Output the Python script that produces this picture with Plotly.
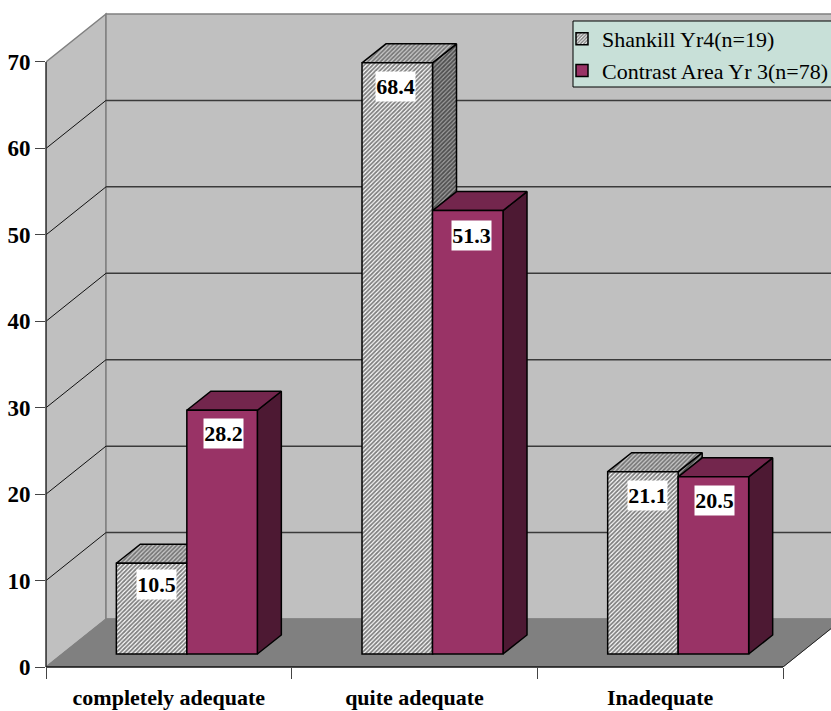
import plotly.graph_objects as go

# Survey responses, percentages per category
categories = ["completely adequate", "quite adequate", "Inadequate"]
shankill_name = "Shankill Yr4(n=19)"
contrast_name = "Contrast Area Yr 3(n=78)"
shankill = [10.5, 68.4, 21.1]
contrast = [28.2, 51.3, 20.5]
y_ticks = [0, 10, 20, 30, 40, 50, 60, 70]

SERIF = "Liberation Serif"

# Pixel scale of the axes
WIDTH, HEIGHT = 831, 711
ML, MR, MT, MB = 46, 0, 10, 44
X_UNIT = 245.67
Y_UNIT = 8.643
PLOT_W = WIDTH - ML - MR
PLOT_H = HEIGHT - MT - MB

# Fake-3D geometry, in axis units
WALL_DX = 60 / X_UNIT
WALL_DY = 48 / Y_UNIT
BAR_W = 70.5 / X_UNIT
BAR_SHIFT = 18 / X_UNIT
BAR_BASE = 13 / Y_UNIT
BAR_DX = 24 / X_UNIT
BAR_DY = 19 / Y_UNIT

YMAX = y_ticks[-1]
N = len(categories)

WALL = "#c0c0c0"
FLOOR = "#808080"
GRID = "#3a3a3a"


def polygon_path(points):
    return "M" + " L".join(f"{x},{y}" for x, y in points) + " Z"


shapes = [
    # left wall, back wall and floor
    dict(type="path", xref="x", yref="y", layer="below", fillcolor=WALL,
         line=dict(color=FLOOR, width=1.5),
         path=polygon_path([(0, 0), (WALL_DX, WALL_DY), (WALL_DX, YMAX + WALL_DY), (0, YMAX)])),
    dict(type="path", xref="x", yref="y", layer="below", fillcolor=WALL,
         line=dict(color=FLOOR, width=1.5),
         path=polygon_path([(WALL_DX, WALL_DY), (N + WALL_DX, WALL_DY),
                            (N + WALL_DX, YMAX + WALL_DY), (WALL_DX, YMAX + WALL_DY)])),
    dict(type="path", xref="x", yref="y", layer="below", fillcolor=FLOOR,
         line=dict(color=FLOOR, width=1),
         path=polygon_path([(0, 0), (N, 0), (N + WALL_DX, WALL_DY), (WALL_DX, WALL_DY)])),
]
for v in y_ticks[1:-1]:
    shapes.append(dict(type="line", xref="x", yref="y", layer="below",
                       x0=0, y0=v, x1=WALL_DX, y1=v + WALL_DY,
                       line=dict(color="#111111", width=1)))
    shapes.append(dict(type="line", xref="x", yref="y", layer="below",
                       x0=WALL_DX, y0=v + WALL_DY, x1=N + WALL_DX, y1=v + WALL_DY,
                       line=dict(color=GRID, width=1.5)))
# Floor's outer edge
shapes.append(dict(type="line", xref="x", yref="y", layer="below",
                   x0=N, y0=0, x1=N + WALL_DX, y1=WALL_DY,
                   line=dict(color="#222222", width=1)))
# Backing panel behind the legend entries, running off the right edge
shapes.append(dict(type="rect", xref="x", yref="y", layer="below",
                   x0=(573 - ML) / X_UNIT, x1=(WIDTH + 10 - ML) / X_UNIT,
                   y0=(HEIGHT - MB - 87) / Y_UNIT, y1=(HEIGHT - MB - 21) / Y_UNIT,
                   fillcolor="#c8e0d8", line=dict(color="#000000", width=1)))
# Axis lines, which stop at the last tick rather than the end of the range
shapes.append(dict(type="line", xref="paper", yref="y", layer="above",
                   x0=0, y0=0, x1=0, y1=YMAX, line=dict(color="#333333", width=1.5)))
shapes.append(dict(type="line", xref="x", yref="paper", layer="above",
                   x0=0, y0=0, x1=N, y1=0, line=dict(color="#111111", width=1.5)))


def side_and_top(values, group_shift):
    """Outlines of the right side and the top face of each bar."""
    sx, sy, tx, ty = [], [], [], []
    for i, v in enumerate(values):
        left = i + 0.5 + BAR_SHIFT + group_shift
        right = left + BAR_W
        bottom = BAR_BASE
        top = BAR_BASE + v
        sx += [right, right + BAR_DX, right + BAR_DX, right, right, None]
        sy += [bottom, bottom + BAR_DY, top + BAR_DY, top, bottom, None]
        tx += [left, right, right + BAR_DX, left + BAR_DX, left, None]
        ty += [top, top, top + BAR_DY, top + BAR_DY, top, None]
    return sx, sy, tx, ty


fig = go.Figure()
EDGE = dict(color="#000000", width=1.5)

series = [
    dict(name=shankill_name, values=shankill, shift=-BAR_W, z=1,
         front=dict(color="#ffffff", pattern=dict(shape="/", fgcolor="#000000", bgcolor="#ffffff", size=3, solidity=0.6)),
         top_pat=dict(shape="/", fgcolor="#202020", bgcolor="#c8c8c8", size=3, solidity=0.55),
         side_pat=dict(shape="/", fgcolor="#000000", bgcolor="#a0a0a0", size=3, solidity=0.6),
         top_col="#909090", side_col="#666666"),
    dict(name=contrast_name, values=contrast, shift=0, z=3,
         front=dict(color="#993366"),
         top_pat=None, side_pat=None,
         top_col="#73264d", side_col="#4d1933"),
]

for s in series:
    sx, sy, tx, ty = side_and_top(s["values"], s["shift"])
    for xs, ys, col, pat in ((sx, sy, s["side_col"], s["side_pat"]),
                             (tx, ty, s["top_col"], s["top_pat"])):
        kwargs = dict(fillpattern=pat) if pat else {}
        fig.add_trace(go.Scatter(x=xs, y=ys, mode="lines", fill="toself", fillcolor=col,
                                 line=EDGE, hoverinfo="skip", showlegend=False,
                                 zorder=s["z"], **kwargs))
    fig.add_trace(go.Bar(
        x=[i + 0.5 + BAR_SHIFT + s["shift"] + BAR_W / 2 for i in range(N)],
        y=s["values"], base=BAR_BASE, width=BAR_W, name=s["name"], legendgroup=s["name"],
        marker=dict(line=EDGE, **s["front"]), zorder=s["z"] + 1,
    ))

# Value labels on white plates
annotations = []
label_nudges = [[5, -2, 5], [1, 4, 1]]
label_drops = [[-21, -24, -24], [-23, -25, -24]]
for s, nudges, drops in zip(series, label_nudges, label_drops):
    for i, (v, nudge, drop) in enumerate(zip(s["values"], nudges, drops)):
        annotations.append(dict(
            x=i + 0.5 + BAR_SHIFT + s["shift"] + BAR_W / 2, y=BAR_BASE + v,
            xref="x", yref="y", text=f"{v:.1f}", showarrow=False,
            xshift=nudge, yshift=drop, yanchor="middle", xanchor="center",
            width=39, height=29, bgcolor="#ffffff", borderpad=0,
            font=dict(family=SERIF, size=22, color="#000000", weight=700),
        ))

fig.update_layout(
    width=WIDTH, height=HEIGHT,
    margin=dict(l=ML, r=MR, t=MT, b=MB, autoexpand=False),
    paper_bgcolor="#ffffff", plot_bgcolor="#ffffff",
    barmode="overlay",
    shapes=shapes, annotations=annotations,
    xaxis=dict(
        range=[0, PLOT_W / X_UNIT], showgrid=False, zeroline=False, showline=False,
        tickmode="array", tickvals=[i + 0.5 for i in range(N)], ticktext=categories,
        ticks="", ticklabelstandoff=15,
        tickfont=dict(family=SERIF, size=22, color="#000000", weight=700),
        minor=dict(tickmode="array", tickvals=list(range(N + 1)), ticks="outside",
                   ticklen=11, tickwidth=1, tickcolor="#444444", showgrid=False),
    ),
    yaxis=dict(
        range=[0, PLOT_H / Y_UNIT], showgrid=False, zeroline=False, showline=False,
        tickmode="array", tickvals=y_ticks, ticktext=[str(t) for t in y_ticks],
        ticks="outside", ticklen=10, tickwidth=1, tickcolor="#444444",
        tickfont=dict(family=SERIF, size=23, color="#000000", weight=700),
    ),
    legend=dict(
        x=(572 - ML) / PLOT_W, y=(HEIGHT - MB - 18) / PLOT_H, xanchor="left", yanchor="top",
        bgcolor="rgba(0,0,0,0)", borderwidth=0,
        indentation=-10, tracegroupgap=5, traceorder="normal",
        font=dict(family=SERIF, size=22, color="#000000"),
    ),
    showlegend=True,
)

fig.write_html("out.html")
